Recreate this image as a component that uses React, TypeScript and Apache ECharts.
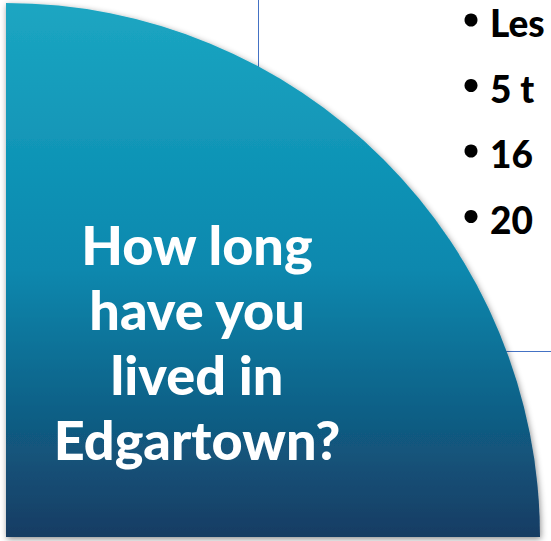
import React, { useEffect, useRef } from "react";
import * as echarts from "echarts";

const titleLines = ["How long", "have you", "lived in", "Edgartown?"];
const bulletItems = ["Les", "5 t", "16", "20"];
const gradientColors = ["#1CA6C2", "#0888AE", "#173C63"];

export default function App() {
  const ref = useRef<HTMLDivElement>(null);
  useEffect(() => {
    document.body.style.margin = "0";
    const chart = echarts.init(ref.current!, undefined, { renderer: "svg" });
    const elements: any[] = [];
    elements.push({
      type: "line",
      shape: { x1: 258.5, y1: 0, x2: 258.5, y2: 120 },
      style: { stroke: "#4472C4", lineWidth: 1 },
      z: 1,
    });
    elements.push({
      type: "line",
      shape: { x1: 470, y1: 351.5, x2: 551, y2: 351.5 },
      style: { stroke: "#4472C4", lineWidth: 1 },
      z: 1,
    });
    elements.push({
      type: "sector",
      shape: { cx: 6, cy: 537, r: 534, r0: 0, startAngle: -Math.PI / 2, endAngle: 0, clockwise: true },
      style: {
        fill: new echarts.graphic.LinearGradient(0, 0, 0, 1, [
          { offset: 0, color: gradientColors[0] },
          { offset: 0.5, color: gradientColors[1] },
          { offset: 1, color: gradientColors[2] },
        ]),
        shadowBlur: 6,
        shadowColor: "rgba(0,0,0,0.45)",
        shadowOffsetX: 1,
        shadowOffsetY: 2,
      },
      z: 2,
    });
    titleLines.forEach((t, i) => {
      elements.push({
        type: "text",
        x: 197,
        y: 244 + i * 65.3,
        style: {
          text: t,
          fill: "#ffffff",
          font: "900 54px Lato",
          align: "center",
          verticalAlign: "middle",
        },
        z: 3,
      });
    });
    bulletItems.forEach((t, i) => {
      const cy = 22.5 + i * 65.5;
      elements.push({
        type: "circle",
        shape: { cx: 471, cy: cy - 2.5, r: 6.5 },
        style: { fill: "#000000" },
        z: 3,
      });
      elements.push({
        type: "text",
        x: 490,
        y: cy,
        style: {
          text: t,
          fill: "#000000",
          font: "900 37px Lato",
          align: "left",
          verticalAlign: "middle",
        },
        z: 3,
      });
    });
    chart.setOption({
      animation: false,
      backgroundColor: "#ffffff",
      graphic: { elements },
    });
    return () => chart.dispose();
  }, []);
  return (
    <div
      ref={ref}
      style={{ position: "absolute", left: 0, top: 0, width: 551, height: 541, overflow: "hidden" }}
    />
  );
}
